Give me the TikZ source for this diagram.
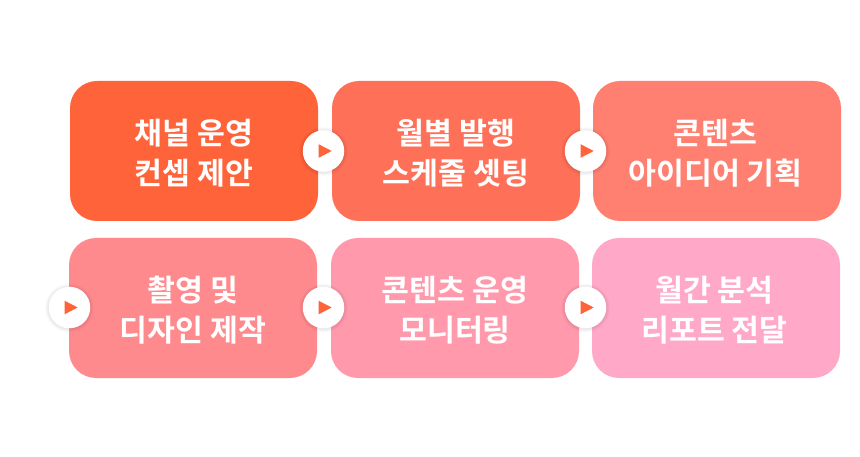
\documentclass[tikz,border=0pt]{standalone}
\usepackage{fontspec}
\setmainfont{Noto Sans CJK KR}[BoldFont={* Bold}]
\definecolor{cA}{HTML}{FF6339}
\definecolor{cB}{HTML}{FF7058}
\definecolor{cC}{HTML}{FF7F70}
\definecolor{cD}{HTML}{FF8A8E}
\definecolor{cE}{HTML}{FF99AB}
\definecolor{cF}{HTML}{FFA8C8}
\tikzset{
  x=1pt,y=-1pt,
  card/.style={rounded corners=27pt,minimum width=248pt,minimum height=140pt,inner sep=0pt},
  cardtext/.style={inner sep=0pt,align=center,text=white,yshift=-2pt,
    font=\fontsize{30.3pt}{40pt}\selectfont\bfseries},
  badge/.style={circle,fill=white,minimum size=41.5pt,inner sep=0pt},
  halo/.style={circle,fill=black,fill opacity=.012,minimum size=#1,inner sep=0pt},
  playtip/.style={fill=cA}
}
\newcommand{\playbadge}[3]{%
  \foreach \s in {49,48,47,46,45,44,43}{\node[halo=\s pt] at (#2,#3+.5) {};}
  \node[badge] (#1) at (#2,#3) {};
  \fill[playtip] (#2-5,#3-6.8) -- (#2+8.2,#3) -- (#2-5,#3+6.8) -- cycle;
}
\begin{document}
\begin{tikzpicture}
\useasboundingbox (0,0) rectangle (860,457);
\fill[white] (0,0) rectangle (860,457);
\node[card,fill=cA] (a) at (194,151) {};
\node[card,fill=cB] (b) at (456,151) {};
\node[card,fill=cC] (c) at (717,151) {};
\node[card,fill=cD] (d) at (193,308) {};
\node[card,fill=cE] (e) at (455,308) {};
\node[card,fill=cF] (f) at (716,308) {};
\node[cardtext] (ta) at (a) {채널 운영\\컨셉 제안};
\node[cardtext] (tb) at (b) {월별 발행\\스케줄 셋팅};
\node[cardtext,xshift=-1.5pt] (tc) at (c) {콘텐츠\\아이디어 기획};
\node[cardtext] (td) at (d) {촬영 및\\디자인 제작};
\node[cardtext] (te) at (e) {콘텐츠 운영\\모니터링};
\node[cardtext,xshift=-1.5pt] (tf) at (f) {월간 분석\\리포트 전달};
\playbadge{p1}{323.5}{151}
\playbadge{p2}{585.5}{151}
\playbadge{p3}{69.5}{307.5}
\playbadge{p4}{323.5}{307.5}
\playbadge{p5}{585.5}{307.5}
\end{tikzpicture}
\end{document}
